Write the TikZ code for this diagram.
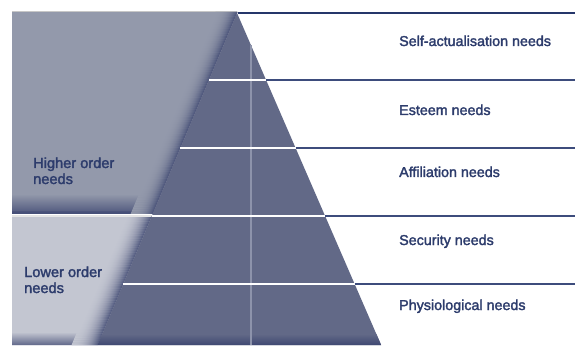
\documentclass[tikz,border=0pt]{standalone}
\usepackage{fontspec}
\setmainfont{Liberation Sans}
\newfontfamily\medfont{Liberation Sans}[FakeBold=2]
\definecolor{pyr}{HTML}{626987}
\definecolor{hipanel}{HTML}{9399AB}
\definecolor{lopanel}{HTML}{C3C6D1}
\definecolor{edgedark}{HTML}{3F4872}
\definecolor{navy}{HTML}{25366A}
\definecolor{rule}{HTML}{3D4C7C}
\definecolor{txt}{HTML}{2D3C6C}
\definecolor{vline}{HTML}{8D93AB}
\tikzset{
  rlabel/.style={anchor=base west, text=txt, inner sep=0pt, font=\medfont\fontsize{14.3}{17}\selectfont},
  llabel/.style={anchor=base west, text=txt, inner sep=0pt, align=left, font=\medfont\fontsize{14.6}{16}\selectfont},
  whiteline/.style={white, line width=2pt},
  navyline/.style={rule, line width=1.3pt},
}
\begin{document}
\begin{tikzpicture}[x=1pt,y=-1pt]
\useasboundingbox (0,0) rectangle (575,347);
\fill[white] (0,0) rectangle (575,347);
% key points of the pyramid
\coordinate (apex) at (237,13);
\coordinate (bl) at (97.6,345);
\coordinate (br) at (381.1,345);
% higher order panel
\fill[hipanel] (12,12) -- (237.4,12) -- (152.6,214) -- (12,214) -- cycle;
\shade[top color=hipanel, bottom color=edgedark!85!hipanel] (12,194) -- (160.9,194) -- (152.6,214) -- (12,214) -- cycle;
\fill[edgedark!90!hipanel] (12,211.5) -- (153.7,211.5) -- (152.6,214) -- (12,214) -- cycle;
\draw[black!22, line width=1pt] (12,11.5) -- (237,11.5);
\foreach \i in {0,...,21}{
  \pgfmathsetmacro\d{22-\i}
  \pgfmathsetmacro\m{80*(\i/21)^2.5}
  \fill[edgedark!\m!hipanel] (237.4-\d,12) -- (237.4-\d+1.2,12) -- (152.6-\d+1.2,214) -- (152.6-\d,214) -- cycle;
}
% lower order panel
\fill[lopanel] (12,216) -- (151.7,216) -- (97.6,345) -- (12,345) -- cycle;
\shade[top color=lopanel, bottom color=edgedark!75!lopanel] (12,332) -- (103.0,332) -- (97.6,345) -- (12,345) -- cycle;
\foreach \i in {0,...,25}{
  \pgfmathsetmacro\d{26-\i}
  \pgfmathsetmacro\m{82*(\i/25)^2.2}
  \fill[edgedark!\m!lopanel] (151.7-\d,216) -- (151.7-\d+1.2,216) -- (97.6-\d+1.2,345) -- (97.6-\d,345) -- cycle;
}
\fill[black!10] (12,215) rectangle (151.9,217.5);
% pyramid
\fill[pyr] (apex) -- (br) -- (bl) -- cycle;
\shade[top color=pyr, bottom color=edgedark] (102.2,334) -- (376.4,334) -- (br) -- (bl) -- cycle;
\draw[vline, line width=1.2pt] (251,45.3) -- (251,345);
% level separators
\foreach \y/\xl/\xr in {80/208.9/266.1, 148/180.3/295.6, 216/151.7/325.1, 284/123.2/354.6}{
  \draw[whiteline] (\xl,\y) -- (\xr,\y);
  \draw[navyline] (\xr,\y) -- (575,\y);
}
\draw[navy, line width=2.5pt] (apex) ++(0.8,0) -- (575,13);
% labels
\node[rlabel] (self) at (399,46) {Self-actualisation needs};
\node[rlabel] (esteem) at (399,115) {Esteem needs};
\node[rlabel] (affil) at (399,177) {Affiliation needs};
\node[rlabel] (secur) at (399,245) {Security needs};
\node[rlabel] (physio) at (399,310) {Physiological needs};
\node[llabel] (higher) at (33,184) {Higher order\\needs};
\node[llabel] (lower) at (24,293) {Lower order\\needs};
\end{tikzpicture}
\end{document}
